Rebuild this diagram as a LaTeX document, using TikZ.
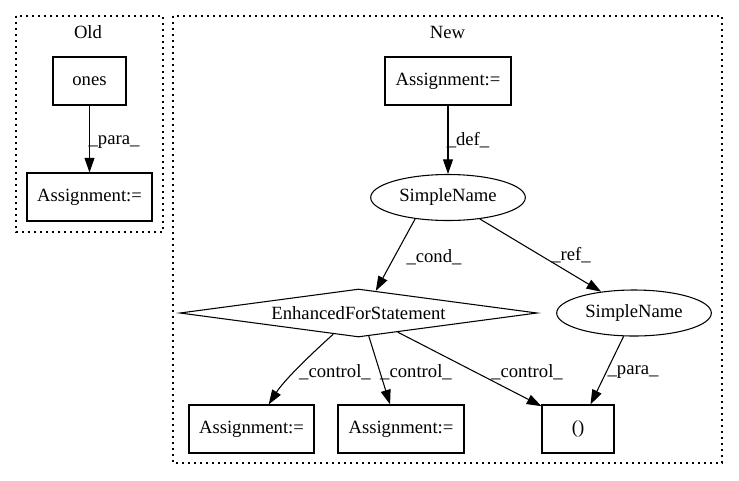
\documentclass[tikz,border=0pt]{standalone}
\usepackage{fontspec}
\setmainfont{Liberation Serif}
\usetikzlibrary{shapes.geometric,arrows.meta}
\begin{document}
\begin{tikzpicture}[x=0.75pt,y=-0.75pt,
  font=\fontsize{14}{16}\selectfont,
  box/.style={draw,line width=0.8pt,rectangle,minimum height=36pt,inner sep=0pt},
  ell/.style={draw,line width=0.8pt,ellipse,minimum width=116pt,minimum height=34.5pt,inner sep=0pt},
  dia/.style={draw,line width=0.8pt,diamond,aspect=7.44,minimum width=268pt,minimum height=36pt,inner sep=0pt},
  edge/.style={line width=0.8pt,-{Triangle[length=11pt,width=7.5pt]}},
  lbl/.style={inner sep=0pt},
  cluster/.style={line width=0.8pt,dash pattern=on 1.3pt off 3.2pt}]
\useasboundingbox (0,0) rectangle (739,480);
% clusters
\draw[cluster] (16,16) rectangle (163,232);
\draw[cluster] (173,16) rectangle (722,463);
\node[lbl] (oldlbl) at (88,32) {Old};
\node[lbl] (newlbl) at (447.5,32) {New};
% nodes
\node[box,minimum width=54.75pt] (ones) at (89.5,81) {ones};
\node[box,minimum width=93.75pt] (oa) at (89.5,197) {Assignment:=};
\node[box,minimum width=94.5pt] (na) at (448,81) {Assignment:=};
\node[ell] (sn1) at (448,197.5) {SimpleName};
\node[dia] (efs) at (358.5,313) {EnhancedForStatement};
\node[ell] (sn2) at (634,313) {SimpleName};
\node[box,minimum width=93.75pt] (b1) at (251.5,429) {Assignment:=};
\node[box,minimum width=94.5pt] (b2) at (401,429) {Assignment:=};
\node[box,minimum width=54pt] (par) at (578,429) {()};
% edges
\draw[edge] (ones) -- (oa);
\draw[edge] (na) -- (sn1);
\draw[edge] (sn1.213) -- (efs.52);
\draw[edge] (sn1.-34) -- (sn2.147);
\draw[edge] (sn2.246) -- (par.63);
\draw[edge] (efs.220) .. controls +(-30,27) and +(14,-22) .. (b1.55);
\draw[edge] (efs.294) -- (b2.114);
\draw[edge] (efs.334) -- (par.148);
% edge labels
\node[lbl] (l1) at (114,142) {\_para\_};
\node[lbl] (l2) at (468,140) {\_def\_};
\node[lbl] (l3) at (434,257) {\_cond\_};
\node[lbl] (l4) at (571,255) {\_ref\_};
\node[lbl] (l5) at (633,372) {\_para\_};
\node[lbl] (l6) at (335,372) {\_control\_};
\node[lbl] (l7) at (416,372) {\_control\_};
\node[lbl] (l8) at (527,372) {\_control\_};
\end{tikzpicture}
\end{document}
